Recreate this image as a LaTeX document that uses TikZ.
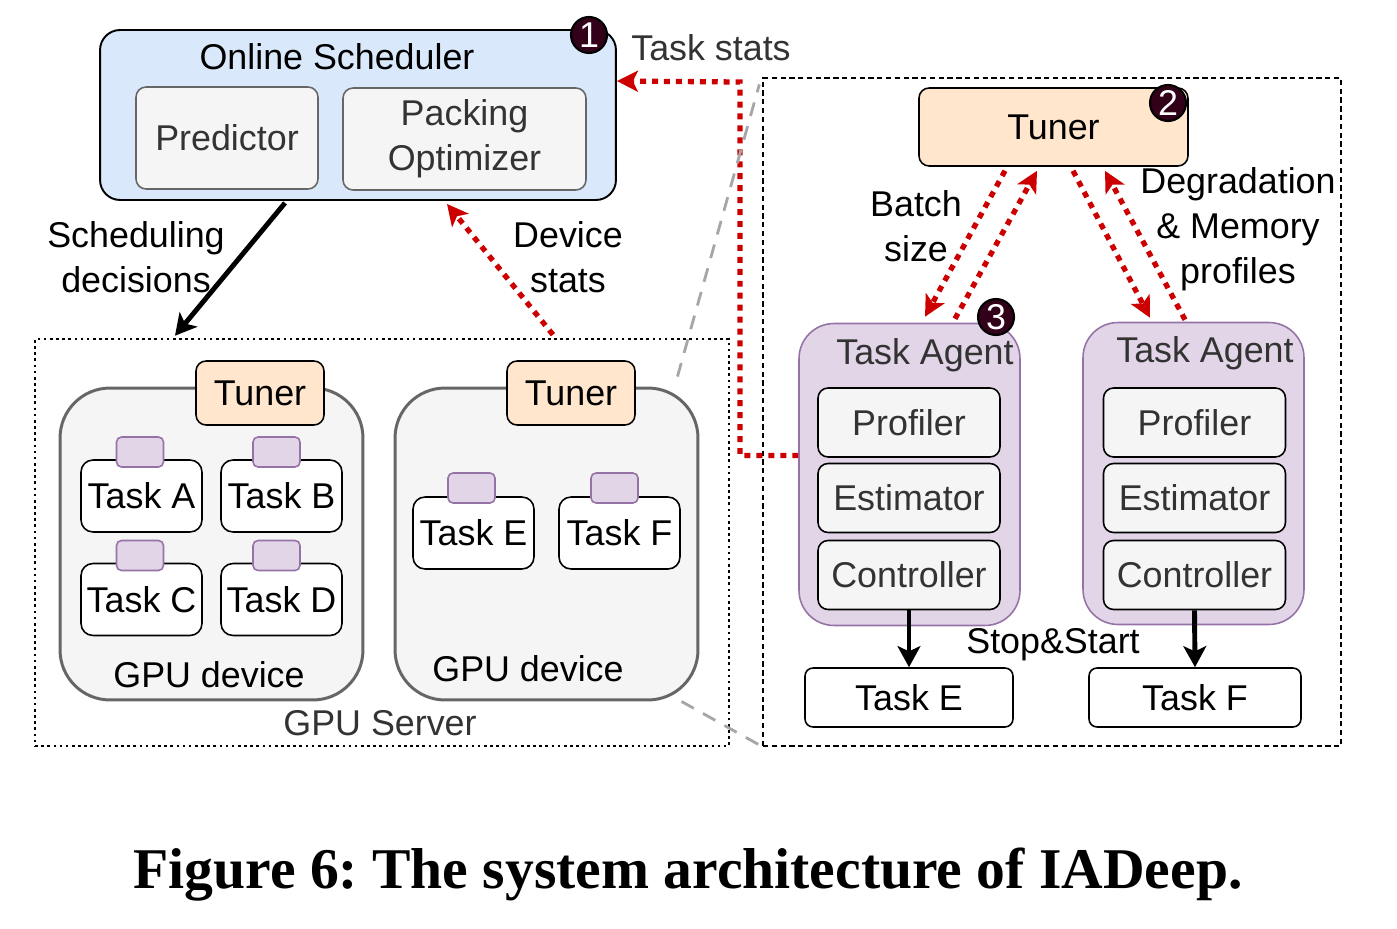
\documentclass[tikz,border=0pt]{standalone}
\usepackage{fontspec}
\setmainfont{Liberation Sans}
\newfontfamily\capfont{Liberation Serif}
\usetikzlibrary{arrows.meta, positioning, calc}

\definecolor{schedfill}{HTML}{DAE8FC}
\definecolor{modfill}{HTML}{F5F5F5}
\definecolor{modline}{HTML}{666666}
\definecolor{tunerfill}{HTML}{FFE6CC}
\definecolor{agentfill}{HTML}{E1D5E7}
\definecolor{agentline}{HTML}{9673A6}
\definecolor{statred}{HTML}{CC0000}
\definecolor{badgefill}{HTML}{33001A}
\definecolor{txt}{HTML}{333333}

\begin{document}
\begin{tikzpicture}[
  x=0.02cm, y=-0.02cm,
  font=\fontsize{20.4}{25.5}\selectfont,
  panel/.style={draw=black, line width=1.1pt, fill=schedfill, rounded corners=0.4cm,
    minimum width=10.32cm, minimum height=3.4cm},
  module/.style={draw=modline, line width=0.9pt, fill=modfill, rounded corners=0.2cm,
    text=txt, align=center, minimum height=2.04cm},
  tunerbox/.style={draw=black, line width=0.9pt, fill=tunerfill, rounded corners=0.2cm},
  device/.style={draw=modline, line width=1.7pt, fill=modfill, rounded corners=1cm,
    minimum width=6.06cm, minimum height=6.24cm},
  task/.style={draw=black, line width=0.9pt, fill=white, rounded corners=0.24cm,
    minimum width=2.42cm, minimum height=1.44cm, inner sep=0pt},
  tab/.style={draw=agentline, fill=agentfill, line width=0.9pt, rounded corners=0.1cm,
    minimum width=0.94cm, minimum height=0.6cm},
  agent/.style={draw=agentline, fill=agentfill, line width=0.9pt, rounded corners=0.7cm,
    minimum width=4.42cm, minimum height=6.04cm},
  part/.style={draw=black, line width=0.9pt, fill=modfill, rounded corners=0.2cm,
    text=txt, minimum width=3.64cm, minimum height=1.38cm},
  badge/.style={circle, draw=black, line width=1.2pt, fill=badgefill, text=white,
    minimum size=0.72cm, inner sep=0pt},
  redarr/.style={draw=statred, line width=3pt, dash pattern=on 3.4pt off 3.4pt,
    -{Stealth[length=12pt, width=12pt, inset=3pt]}},
  blkarr/.style={draw=black, line width=2.8pt, -{Stealth[length=12pt, width=13pt, inset=3pt]}},
  link/.style={draw=gray!70, line width=1.6pt, dash pattern=on 8pt off 6pt},
  lbl/.style={align=center},
]
  \useasboundingbox (0,0) rectangle (1397,929);

  % Online scheduler
  \node[panel] (sched) at (358,115) {};
  \node[lbl] (schedlbl) at (337,57) {Online Scheduler};
  \node[module, minimum width=3.64cm] (pred) at (227,138) {Predictor};
  \node[module, minimum width=4.86cm] (pack) at (464.5,139) {Packing\\Optimizer};
  \node[badge] (b1) at (589,35) {1};
  \node[lbl, text=txt] (statlbl) at (711,48) {Task stats};

  % GPU server
  \node[draw, line width=1.5pt, dotted, minimum width=13.88cm, minimum height=8.14cm]
    (server) at (382,542.5) {};
  \node[lbl, text=txt] (serverlbl) at (380,723) {GPU Server};

  \node[device] (devL) at (211.5,544) {};
  \node[lbl] (devLlbl) at (209,675) {GPU device};
  \node[tunerbox, minimum width=2.56cm, minimum height=1.28cm] (tunA) at (260,393) {Tuner};
  \node[task] (tA) at (141.5,496) {Task A};
  \node[task] (tB) at (281.5,496) {Task B};
  \node[task] (tC) at (141.5,599.5) {Task C};
  \node[task] (tD) at (281.5,599.5) {Task D};
  \node[tab] (tabA) at (140,452) {};
  \node[tab] (tabB) at (276.5,452) {};
  \node[tab] (tabC) at (140,555.5) {};
  \node[tab] (tabD) at (276.5,555.5) {};

  \node[device] (devR) at (546.5,544) {};
  \node[lbl] (devRlbl) at (528,669) {GPU device};
  \node[tunerbox, minimum width=2.56cm, minimum height=1.28cm] (tunB) at (571,393) {Tuner};
  \node[task] (tE) at (473.5,533) {Task E};
  \node[task] (tF) at (619.5,533) {Task F};
  \node[tab] (tabE) at (471.5,488) {};
  \node[tab] (tabF) at (614.5,488) {};

  % Zoomed view of one device
  \node[draw, line width=0.8pt, dash pattern=on 3pt off 2pt, minimum width=11.56cm,
    minimum height=13.36cm] (zoombox) at (1052,412) {};
  \node[tunerbox, minimum width=5.38cm, minimum height=1.56cm] (tunR) at (1053.5,127) {Tuner};
  \node[badge] (b2) at (1168,103) {2};

  \node[agent] (agL) at (909.5,474.5) {};
  \node[lbl, text=txt] (agLlbl) at (925,355) {Task Agent};
  \node[part] (profL) at (909,422.5) {Profiler};
  \node[part] (estL) at (909,498) {Estimator};
  \node[part] (ctrlL) at (909,575) {Controller};
  \node[badge] (b3) at (996,317) {3};

  \node[agent] (agR) at (1193.5,473.5) {};
  \node[lbl, text=txt] (agRlbl) at (1205,353) {Task Agent};
  \node[part] (profR) at (1194.5,422.5) {Profiler};
  \node[part] (estR) at (1194.5,498) {Estimator};
  \node[part] (ctrlR) at (1194.5,575) {Controller};

  \node[task, minimum width=4.16cm, minimum height=1.18cm, rounded corners=0.16cm]
    (tE2) at (909,697.5) {Task E};
  \node[task, minimum width=4.24cm, minimum height=1.18cm, rounded corners=0.16cm]
    (tF2) at (1195,697.5) {Task F};
  \node[lbl] (stoplbl) at (1053,645) {Stop\&Start};

  % Labels
  \node[lbl] (schedtxt) at (136,257) {Scheduling\\decisions};
  \node[lbl] (devtxt) at (568,257) {Device\\stats};
  \node[lbl] (batchtxt) at (916,226) {Batch\\size};
  \node[lbl] (degtxt) at (1238,229) {Degradation\\\& Memory\\profiles};

  % Connectors
  \draw[blkarr] ($(sched.south)+(-73,2)$) -- ($(server.north)+(-207,-2)$);
  \draw[redarr] ($(server.north)+(171,-3)$) -- ($(sched.south)+(89,3)$);
  \draw[redarr] ($(agL.west)+(0,-19)$) -| (740,82) -- ($(sched.north east)+(0,52)$);
  \draw[link] ($(devR.north east)+(-22,-10)$) -- ($(zoombox.north west)+(-3,7)$);
  \draw[link] ($(devR.south east)+(-18,0)$) -- (zoombox.south west);

  \draw[redarr] ($(tunR.south)+(-48.5,4)$) -- ($(agL.north)+(15.5,-6)$);
  \draw[redarr] ($(agL.north)+(45.5,-4)$) -- ($(tunR.south)+(-16.5,4)$);
  \draw[redarr] ($(tunR.south)+(19.5,4)$) -- ($(agR.north)+(-43.5,-4)$);
  \draw[redarr] ($(agR.north)+(-8.5,-2)$) -- ($(tunR.south)+(51.5,4)$);

  \draw[blkarr] (ctrlL.south) -- (tE2.north);
  \draw[blkarr] (ctrlR.south) -- (tF2.north);

  % Caption
  \node (cap) at (688,875) {\capfont\bfseries\frenchspacing\fontsize{32.8}{36}\selectfont Figure 6: The system architecture of IADeep.};
\end{tikzpicture}
\end{document}
